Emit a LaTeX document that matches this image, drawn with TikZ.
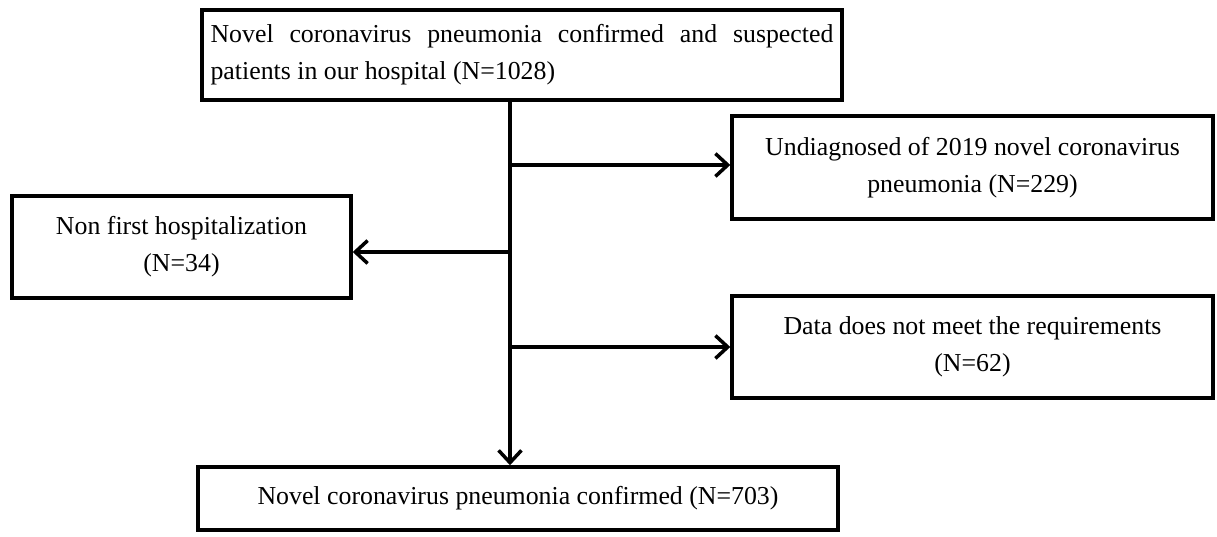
\documentclass[tikz,border=0pt]{standalone}
\usepackage{fontspec}
\setmainfont{Liberation Serif}
\usepackage{tikz}
\usetikzlibrary{arrows.meta, positioning, calc}

\begin{document}
\begin{tikzpicture}[
          x=0.02cm, y=-0.02cm,
          box/.style={rectangle, draw=black, line width=2pt, fill=white, align=center, inner sep=0pt, font=\fontsize{14.7}{21}\selectfont},
          arrow/.style={-{Straight Barb[length=7pt, width=13pt]}, line width=2pt, draw=black}
        ]
          \useasboundingbox (0,0) rectangle (1217,537);
          % Boxes
          \node[box, minimum width=12.8cm, minimum height=1.8cm] (start) at (522, 55) {\begin{minipage}{12.46cm}\fontsize{14.7}{21}\selectfont Novel coronavirus pneumonia confirmed and suspected\linebreak patients in our hospital (N=1028)\end{minipage}};
          \node[box, minimum width=9.62cm, minimum height=2.06cm] (undiag) at (972.5, 167.5) {Undiagnosed of 2019 novel coronavirus \\ pneumonia (N=229)};
          \node[box, minimum width=6.78cm, minimum height=2.04cm] (nonfirst) at (181.5, 247) {Non first hospitalization \\ (N=34)};
          \node[box, minimum width=9.62cm, minimum height=2.04cm] (baddata) at (972.5, 347) {Data does not meet the requirements \\ (N=62)};
          \node[box, minimum width=12.8cm, minimum height=1.26cm] (final) at (518, 498.5) {Novel coronavirus pneumonia confirmed (N=703)};
          
          % Connections
          \coordinate (split) at (510, 100);
          \coordinate (b1) at (510, 165);
          \coordinate (b2) at (510, 252);
          \coordinate (b3) at (510, 347);
          \draw[arrow] (split) -- (split |- final.north);
          \draw[arrow] (b1) -- (b1 -| undiag.west);
          \draw[arrow] (b2) -- (b2 -| nonfirst.east);
          \draw[arrow] (b3) -- (b3 -| baddata.west);
        \end{tikzpicture}
\end{document}
